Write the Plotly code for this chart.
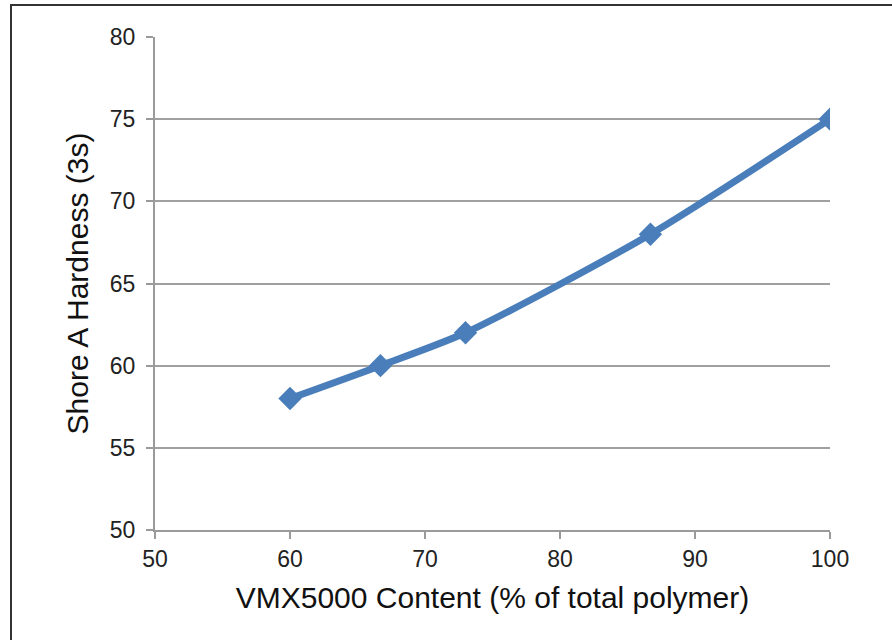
import plotly.graph_objects as go

content = [60, 66.7, 73, 86.7, 100]
hardness = [58, 60, 62, 68, 75]

W, H = 892, 640
L, R, T, B = 155, 62, 37, 110
pw, ph = W - L - R, H - T - B

fig = go.Figure()
fig.add_trace(go.Scatter(
    x=content, y=hardness, mode="lines+markers",
    line=dict(color="#4a7ebb", width=7, shape="spline", smoothing=0.7),
    marker=dict(symbol="diamond", size=18, color="#4a7ebb"),
    showlegend=False,
))

FAM = "Liberation Sans, Arial, sans-serif"
tick_font = dict(family=FAM, size=23, color="#222222")
title_font = dict(family=FAM, size=30, color="#111111")
fig.update_layout(
    width=W, height=H,
    margin=dict(l=L, r=R, t=T, b=B),
    paper_bgcolor="white", plot_bgcolor="white",
    font=tick_font,
    xaxis=dict(range=[50, 100], dtick=10, showgrid=False, zeroline=False,
               showline=True, linecolor="#9a9a9a", linewidth=2,
               ticks="outside", ticklen=7, tickcolor="#9a9a9a", tickwidth=1.5,
               tickfont=tick_font,
               title=dict(text="VMX5000 Content (% of total polymer)",
                          font=title_font, standoff=16)),
    yaxis=dict(range=[50, 80], dtick=5, showgrid=True, gridcolor="#a0a0a0", gridwidth=1.5,
               zeroline=False, showline=True, linecolor="#9a9a9a", linewidth=2,
               ticks="outside", ticklen=7, tickcolor="#9a9a9a", tickwidth=1.5,
               tickfont=tick_font, ticklabelstandoff=6,
               title=dict(text="Shore A Hardness (3s)",
                          font=title_font, standoff=12)),
)

# outer frame of the picture
fig.add_shape(type="rect", xref="paper", yref="paper",
              x0=(11 - L) / pw, x1=(W + 10 - L) / pw,
              y0=-(H + 10 - T - ph) / ph, y1=(H - 5 - B) / ph,
              line=dict(color="#333333", width=2), layer="below")

fig.write_html("out.html", config={"displayModeBar": False})
with open("out.html", encoding="utf-8") as f:
    html = f.read()
html = html.replace("<head>", "<head><style>html,body{margin:0;padding:0;overflow:hidden}</style>", 1)
with open("out.html", "w", encoding="utf-8") as f:
    f.write(html)
